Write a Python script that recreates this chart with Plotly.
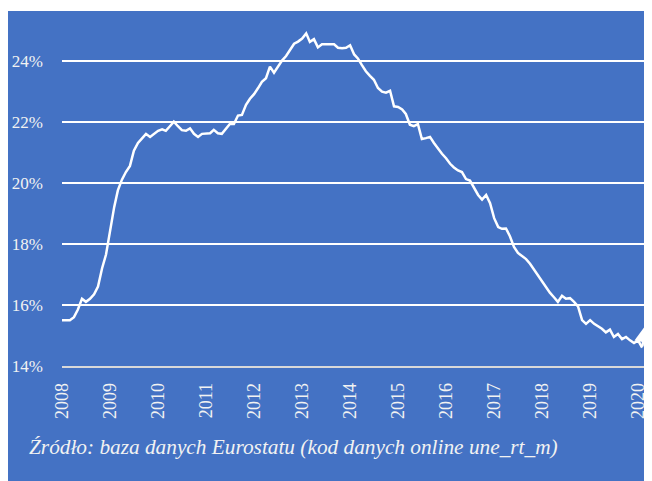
import plotly.graph_objects as go
import pandas as pd

# Monthly values (%), one list per year
y2008 = [15.5, 15.5, 15.5, 15.6, 15.85, 16.2, 16.1, 16.2, 16.35, 16.6, 17.2, 17.65]
y2009 = [18.45, 19.2, 19.75, 20.1, 20.35, 20.55, 21.05, 21.3, 21.45, 21.6, 21.5, 21.6]
y2010 = [21.7, 21.75, 21.7, 21.85, 22.0, 21.85, 21.72, 21.7, 21.78, 21.6, 21.5, 21.6]
y2011 = [21.62, 21.62, 21.73, 21.62, 21.6, 21.75, 21.92, 21.92, 22.2, 22.22, 22.55, 22.75]
y2012 = [22.9, 23.1, 23.3, 23.42, 23.8, 23.6, 23.8, 24.0, 24.15, 24.35, 24.55, 24.62]
y2013 = [24.72, 24.89, 24.61, 24.7, 24.43, 24.53, 24.53, 24.53, 24.53, 24.42, 24.4, 24.42]
y2014 = [24.5, 24.2, 24.07, 23.85, 23.65, 23.5, 23.37, 23.1, 22.98, 22.95, 23.01, 22.5]
y2015 = [22.48, 22.4, 22.25, 21.9, 21.85, 21.92, 21.43, 21.46, 21.5, 21.3, 21.1, 20.95]
y2016 = [20.8, 20.62, 20.5, 20.4, 20.35, 20.12, 20.07, 19.85, 19.6, 19.45, 19.6, 19.33]
y2017 = [18.84, 18.55, 18.49, 18.5, 18.25, 17.9, 17.7, 17.6, 17.5, 17.35, 17.15, 17.0]
y2018 = [16.8, 16.6, 16.4, 16.25, 16.1, 16.3, 16.2, 16.22, 16.1, 15.95, 15.5, 15.38]
y2019 = [15.5, 15.38, 15.3, 15.22, 15.1, 15.19, 14.95, 15.05, 14.88, 14.95, 14.84, 14.75]
y2020 = [14.84, 14.6, 15.35]

values = y2008 + y2009 + y2010 + y2011 + y2012 + y2013 + y2014 + y2015 + y2016 + y2017 + y2018 + y2019 + y2020
dates = pd.date_range("2008-01-01", periods=len(values), freq="MS")

y_ticks = [14, 16, 18, 20, 22, 24]
y_tick_labels = ["14%", "16%", "18%", "20%", "22%", "24%"]
source_text = "Źródło: baza danych Eurostatu (kod danych online une_rt_m)"

BLUE = "#4472C4"
FONT = "Liberation Serif"

fig = go.Figure()
fig.add_trace(go.Scatter(
    x=dates[:-1], y=values[:-1], mode="lines",
    line=dict(color="white", width=2.5),
    cliponaxis=False,
    hoverinfo="skip", showlegend=False,
))

# figure is placed 8px from the page's top-left corner (body margin)
W, H = 644, 473
L, T = 54, 22
B = H - 358.5
R = 0
pw = W - L - R
ph = H - T - B

def px_x(p):
    return (p - L) / pw

def px_y(p):
    return (H - B - p) / ph

fig.update_layout(
    width=W, height=H,
    margin=dict(l=L, r=R, t=T, b=B, pad=0),
    paper_bgcolor=BLUE, plot_bgcolor=BLUE,
    font=dict(family=FONT, color="#f2f2f2"),
    xaxis=dict(
        type="date",
        range=["2008-01-01", "2020-04-16"],
        dtick="M12", tick0="2008-01-01", tickformat="%Y",
        tickangle=-90, tickfont=dict(size=18, family=FONT, color="#f2f2f2"),
        showgrid=False, zeroline=False, ticks="",
        showline=True, linecolor="#d9d9d9", linewidth=1.5,
        ticklabelstandoff=8,
        fixedrange=True,
    ),
    yaxis=dict(
        range=[14, 25],
        tickvals=y_ticks, ticktext=y_tick_labels,
        tickfont=dict(size=17, family=FONT, color="#f2f2f2"),
        showgrid=True, gridcolor="white", gridwidth=1.5,
        zeroline=False, ticks="", showline=False,
        ticklabelstandoff=18,
        fixedrange=True,
    ),
    shapes=[
        dict(type="rect", xref="paper", yref="paper", layer="below",
             x0=px_x(-5), x1=px_x(W + 5), y0=px_y(3), y1=px_y(-5),
             fillcolor="white", line=dict(width=0)),
    ],
    annotations=[
        dict(text="", x=dates[-1], y=values[-1], xref="x", yref="y",
             ax=dates[-2], ay=values[-2], axref="x", ayref="y",
             showarrow=True, arrowhead=2, arrowsize=1.4, arrowwidth=2.5,
             arrowcolor="white", standoff=0, startstandoff=0),
        dict(text=source_text, xref="paper", yref="paper",
             x=px_x(19), y=px_y(440), xanchor="left", yanchor="middle",
             showarrow=False,
             font=dict(family=FONT, size=21.3, color="#f2f2f2", style="italic")),
    ],
)

fig.write_html("out.html", post_script="document.documentElement.style.overflow='hidden';document.body.style.overflow='hidden';")
